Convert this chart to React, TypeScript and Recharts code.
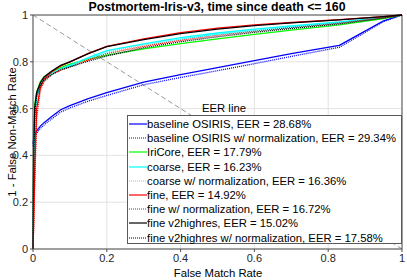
import React from "react";
import {
  LineChart,
  Line,
  XAxis,
  YAxis,
  CartesianGrid,
  ReferenceLine,
  Legend,
} from "recharts";

// false match rate samples shared by every curve
const fmr = [0, 0.002, 0.005, 0.01, 0.02, 0.03, 0.05, 0.075, 0.1, 0.15, 0.2, 0.3, 0.4, 0.5, 0.6, 0.7, 0.83, 0.95, 1];

const baseline = [0.45, 0.47, 0.49, 0.505, 0.525, 0.54, 0.565, 0.595, 0.613, 0.643, 0.668, 0.713, 0.745, 0.775, 0.805, 0.835, 0.87, 0.975, 1];
const baselineNorm = [0.44, 0.46, 0.48, 0.495, 0.515, 0.53, 0.555, 0.585, 0.603, 0.632, 0.656, 0.702, 0.733, 0.762, 0.792, 0.823, 0.862, 0.972, 1];
const iriCore = [0, 0.5, 0.62, 0.67, 0.715, 0.735, 0.755, 0.775, 0.79, 0.81, 0.828, 0.855, 0.878, 0.898, 0.917, 0.935, 0.958, 0.985, 1];
const coarse = [0, 0.4, 0.58, 0.65, 0.7, 0.725, 0.75, 0.77, 0.785, 0.818, 0.848, 0.877, 0.903, 0.923, 0.94, 0.953, 0.97, 0.99, 1];
const coarseNorm = [0, 0.38, 0.57, 0.645, 0.695, 0.72, 0.745, 0.765, 0.78, 0.812, 0.842, 0.871, 0.897, 0.918, 0.935, 0.949, 0.967, 0.989, 1];
const fine = [0, 0.12, 0.35, 0.6, 0.69, 0.725, 0.757, 0.782, 0.8, 0.836, 0.866, 0.898, 0.925, 0.944, 0.958, 0.968, 0.98, 0.993, 1];
const fineNorm = [0, 0.1, 0.3, 0.56, 0.68, 0.715, 0.745, 0.765, 0.778, 0.808, 0.835, 0.866, 0.892, 0.913, 0.931, 0.946, 0.965, 0.988, 1];
const v2 = [0, 0.45, 0.61, 0.67, 0.71, 0.735, 0.76, 0.785, 0.8, 0.835, 0.865, 0.895, 0.92, 0.94, 0.955, 0.966, 0.979, 0.993, 1];
const v2Norm = [0, 0.42, 0.59, 0.655, 0.7, 0.722, 0.745, 0.765, 0.778, 0.803, 0.825, 0.86, 0.886, 0.907, 0.926, 0.942, 0.962, 0.987, 1];

const xTicks = [0, 0.2, 0.4, 0.6, 0.8, 1];
const yTicks = [0, 0.2, 0.4, 0.6, 0.8, 1];

const series = [
  { name: "baseline OSIRIS, EER = 28.68%", values: baseline, color: "#0000ff", dotted: false },
  { name: "baseline OSIRIS w/ normalization, EER = 29.34%", values: baselineNorm, color: "#0000ff", dotted: true },
  { name: "IriCore, EER = 17.79%", values: iriCore, color: "#00ff00", dotted: false },
  { name: "coarse, EER = 16.23%", values: coarse, color: "#00ffff", dotted: false },
  { name: "coarse w/ normalization, EER = 16.36%", values: coarseNorm, color: "#00ffff", dotted: true },
  { name: "fine, EER = 14.92%", values: fine, color: "#ff0000", dotted: false },
  { name: "fine w/ normalization, EER = 16.72%", values: fineNorm, color: "#ff0000", dotted: true },
  { name: "fine v2highres, EER = 15.02%", values: v2, color: "#000000", dotted: false },
  { name: "fine v2highres w/ normalization, EER = 17.58%", values: v2Norm, color: "#000000", dotted: true },
];

const FONT = "'Liberation Sans', Arial, Helvetica, sans-serif";
const AXIS = "#4d4d4d";

const LegendBox = () => (
  <div
    style={{
      position: "absolute",
      left: 127,
      top: 115,
      width: 275,
      height: 129,
      background: "#fff",
      border: "1px solid #5a5a5a",
      fontFamily: FONT,
      fontSize: 11.3,
      color: "#000",
      paddingTop: 1,
      boxSizing: "border-box",
    }}
  >
    {series.map((s) => (
      <div key={s.name} style={{ display: "flex", alignItems: "center", height: 14.2, whiteSpace: "nowrap" }}>
        <svg width={18} height={6} style={{ marginLeft: 1 }}>
          <line
            x1={0}
            y1={3}
            x2={18}
            y2={3}
            stroke={s.color}
            strokeWidth={1.2}
            strokeDasharray={s.dotted ? "1 1" : undefined}
          />
        </svg>
        <span>{s.name}</span>
      </div>
    ))}
  </div>
);

export default function App() {
  return (
    <div style={{ position: "absolute", left: 0, top: 0, width: 407, height: 280, background: "#fff", fontFamily: FONT }}>
      <LineChart width={407} height={280} margin={{ top: 15, right: 5, left: 0, bottom: 0 }}>
        <CartesianGrid stroke="#e3e3e3" strokeWidth={1} />
        <XAxis
          type="number"
          dataKey="x"
          domain={[0, 1]}
          ticks={xTicks}
          height={31}
          tickSize={3}
          tickLine={{ stroke: AXIS }}
          axisLine={{ stroke: AXIS }}
          tick={{ fill: "#262626", fontSize: 11, fontFamily: FONT }}
          tickFormatter={(v: number) => String(v)}
          allowDuplicatedCategory={false}
        />
        <YAxis
          type="number"
          domain={[0, 1]}
          ticks={yTicks}
          width={33}
          tickSize={3}
          tickLine={{ stroke: AXIS }}
          axisLine={{ stroke: AXIS }}
          tick={{ fill: "#262626", fontSize: 11, fontFamily: FONT }}
          tickFormatter={(v: number) => String(v)}
        />
        <ReferenceLine y={1} stroke={AXIS} />
        <ReferenceLine x={1} stroke={AXIS} />
        <ReferenceLine
          segment={[
            { x: 0, y: 1 },
            { x: 1, y: 0 },
          ]}
          stroke="#7f7f7f"
          strokeWidth={0.8}
          strokeDasharray="5 3"
        />
        {series.map((s) => (
          <Line
            key={s.name}
            name={s.name}
            data={fmr.map((x, i) => ({ x, y: s.values[i] }))}
            dataKey="y"
            type="linear"
            stroke={s.color}
            strokeWidth={1.3}
            strokeDasharray={s.dotted ? "1 1" : undefined}
            dot={false}
            isAnimationActive={false}
          />
        ))}
        <Legend content={() => null} />
      </LineChart>
      <LegendBox />
      <div
        style={{
          position: "absolute",
          left: 0,
          width: 434,
          top: 0,
          textAlign: "center",
          fontWeight: "bold",
          fontSize: 12.3,
          lineHeight: "14px",
        }}
      >
        Postmortem-Iris-v3, time since death &lt;= 160
      </div>
      <div style={{ position: "absolute", left: 202, top: 102, fontSize: 11.3, lineHeight: "13px" }}>EER line</div>
      <div
        style={{
          position: "absolute",
          left: 0,
          width: 436,
          top: 267,
          textAlign: "center",
          fontSize: 11.3,
          lineHeight: "13px",
        }}
      >
        False Match Rate
      </div>
      <div
        style={{
          position: "absolute",
          left: 12,
          top: 132,
          fontSize: 11.3,
          lineHeight: "13px",
          whiteSpace: "nowrap",
          transform: "translate(-50%, -50%) rotate(-90deg)",
        }}
      >
        1 - False Non-Match Rate
      </div>
    </div>
  );
}
